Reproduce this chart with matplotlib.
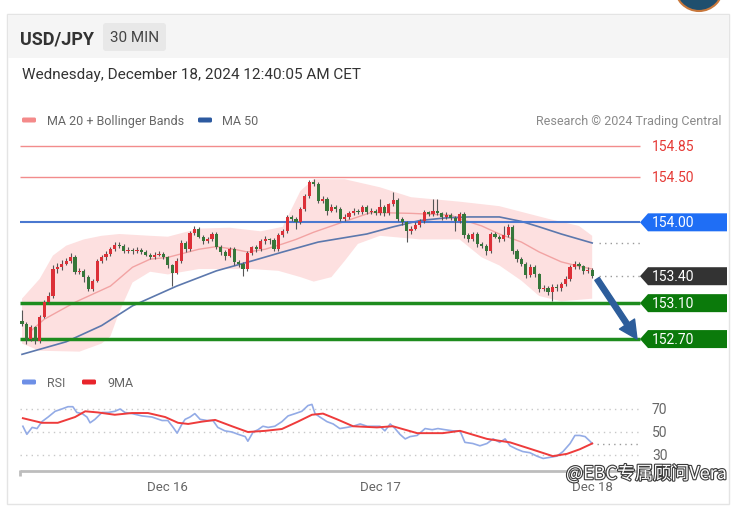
import numpy as np
import matplotlib
matplotlib.use('Agg')
import matplotlib.pyplot as plt
import matplotlib.transforms as mtransforms
import matplotlib.patheffects as pe
from matplotlib.patches import Rectangle, Polygon, FancyArrowPatch, Circle, FancyBboxPatch

plt.rcParams['font.family'] = ['Roboto', 'DejaVu Sans']

# ---------- data (USD/JPY, 30 min bars) ----------
first_open = 152.90
closes = [152.87, 152.70, 152.83, 152.68, 152.95, 153.11, 153.18, 153.48, 153.50, 153.54,
          153.57, 153.61, 153.45, 153.46, 153.39, 153.26, 153.35, 153.57, 153.61, 153.65,
          153.70, 153.75, 153.74, 153.68, 153.69, 153.68, 153.69, 153.67, 153.64, 153.61,
          153.64, 153.65, 153.61, 153.52, 153.44, 153.57, 153.77, 153.70, 153.88, 153.93,
          153.84, 153.79, 153.81, 153.87, 153.73, 153.67, 153.63, 153.70, 153.56, 153.54,
          153.48, 153.66, 153.72, 153.70, 153.79, 153.81, 153.80, 153.70, 153.86, 153.90,
          154.06, 154.04, 154.00, 154.15, 154.29, 154.45, 154.43, 154.24, 154.26, 154.13,
          154.17, 154.15, 154.04, 154.06, 154.10, 154.13, 154.11, 154.17, 154.11, 154.13,
          154.10, 154.17, 154.10, 154.20, 154.25, 154.04, 154.00, 153.90, 153.93, 153.97,
          154.01, 154.11, 154.09, 154.13, 154.10, 154.06, 154.08, 154.05, 154.01, 154.09,
          153.86, 153.81, 153.87, 153.76, 153.74, 153.68, 153.87, 153.84, 153.81, 153.86,
          153.95, 153.68, 153.59, 153.54, 153.41, 153.50, 153.42, 153.26, 153.27, 153.22,
          153.28, 153.27, 153.31, 153.37, 153.50, 153.54, 153.51, 153.46, 153.47, 153.40]
highs = [153.02, 152.89, 152.86, 152.85, 152.97, 153.14, 153.22, 153.52, 153.55, 153.58,
         153.60, 153.66, 153.64, 153.49, 153.48, 153.41, 153.37, 153.59, 153.64, 153.68,
         153.73, 153.78, 153.78, 153.76, 153.72, 153.71, 153.72, 153.71, 153.69, 153.66,
         153.67, 153.68, 153.67, 153.63, 153.54, 153.60, 153.80, 153.79, 153.90, 153.96,
         153.95, 153.86, 153.84, 153.89, 153.89, 153.75, 153.69, 153.72, 153.72, 153.58,
         153.56, 153.68, 153.74, 153.75, 153.81, 153.85, 153.83, 153.82, 153.88, 153.93,
         154.08, 154.08, 154.06, 154.17, 154.31, 154.47, 154.48, 154.45, 154.29, 154.28,
         154.20, 154.19, 154.17, 154.09, 154.13, 154.16, 154.15, 154.19, 154.19, 154.16,
         154.15, 154.26, 154.19, 154.22, 154.34, 154.27, 154.06, 154.02, 153.96, 154.00,
         154.04, 154.14, 154.13, 154.26, 154.26, 154.12, 154.11, 154.10, 154.07, 154.12,
         154.11, 153.88, 153.89, 153.89, 153.78, 153.76, 153.89, 153.89, 153.86, 153.96,
         153.98, 153.97, 153.70, 153.61, 153.56, 153.54, 153.52, 153.44, 153.30, 153.29,
         153.31, 153.31, 153.34, 153.40, 153.52, 153.57, 153.56, 153.53, 153.50, 153.49]
lows = [152.84, 152.65, 152.68, 152.64, 152.66, 152.93, 153.09, 153.16, 153.44, 153.47,
        153.52, 153.55, 153.42, 153.42, 153.33, 153.23, 153.24, 153.33, 153.55, 153.58,
        153.63, 153.68, 153.71, 153.66, 153.66, 153.65, 153.66, 153.65, 153.62, 153.59,
        153.59, 153.62, 153.59, 153.49, 153.29, 153.42, 153.55, 153.67, 153.68, 153.86,
        153.82, 153.76, 153.77, 153.79, 153.70, 153.64, 153.58, 153.61, 153.53, 153.50,
        153.40, 153.46, 153.64, 153.67, 153.68, 153.76, 153.76, 153.68, 153.68, 153.84,
        153.88, 154.01, 153.93, 153.98, 154.13, 154.27, 154.40, 154.21, 154.22, 154.08,
        154.11, 154.12, 154.01, 154.02, 154.04, 154.08, 154.09, 154.09, 154.09, 154.09,
        154.08, 154.08, 154.07, 154.08, 154.18, 154.01, 153.97, 153.78, 153.87, 153.91,
        153.95, 153.99, 154.07, 154.07, 154.08, 154.03, 154.04, 154.03, 153.90, 153.99,
        153.83, 153.78, 153.79, 153.73, 153.71, 153.64, 153.66, 153.82, 153.78, 153.79,
        153.84, 153.65, 153.56, 153.51, 153.38, 153.39, 153.39, 153.22, 153.24, 153.19,
        153.12, 153.24, 153.24, 153.29, 153.35, 153.48, 153.48, 153.43, 153.44, 153.38]

# indicators read at sparse bar positions
ma20_x = [2, 5, 12, 20, 25, 29, 33, 40, 44, 48, 51, 55, 59, 62, 66, 73, 79, 88, 97, 99,
          104, 108, 113, 117, 122, 126, 129]
ma20_v = [152.79, 152.92, 153.11, 153.29, 153.50, 153.59, 153.61, 153.70, 153.73, 153.70,
          153.67, 153.70, 153.76, 153.81, 153.89, 154.01, 154.11, 154.10, 154.08, 154.04,
          153.96, 153.87, 153.78, 153.67, 153.56, 153.51, 153.48]
ma50_x = [0, 10, 18, 25, 35, 44, 52, 59, 67, 78, 84, 90, 96, 101, 108, 113, 117, 122, 129]
ma50_v = [152.53, 152.67, 152.85, 153.07, 153.29, 153.46, 153.57, 153.67, 153.78, 153.87,
          153.95, 154.02, 154.05, 154.06, 154.06, 154.01, 153.95, 153.87, 153.77]
bb_up_x = [0, 4, 7, 10, 14, 18, 22, 29, 33, 40, 47, 54, 59, 61, 63, 66, 73, 81, 88, 99,
           108, 119, 126, 129]
bb_up_v = [153.15, 153.37, 153.63, 153.74, 153.81, 153.85, 153.87, 153.85, 153.84, 153.93,
           153.94, 153.90, 153.95, 154.15, 154.35, 154.48, 154.48, 154.39, 154.28, 154.23,
           154.18, 154.04, 153.96, 153.85]
bb_lo_x = [0, 4, 13, 18, 20, 22, 25, 29, 33, 40, 52, 58, 63, 66, 70, 73, 76, 81, 90, 99,
           104, 108, 113, 117, 122, 129]
bb_lo_v = [152.65, 152.57, 152.56, 152.65, 152.73, 153.00, 153.33, 153.45, 153.42, 153.48,
           153.48, 153.46, 153.39, 153.34, 153.39, 153.57, 153.76, 153.85, 153.81, 153.81,
           153.61, 153.52, 153.35, 153.18, 153.12, 153.15]

rsi_x = [0.2, 1.1, 2.3, 3.4, 4.5, 5.9, 7.5, 9.0, 10.4, 11.5, 12.4, 13.6, 14.7, 15.4, 16.5,
         18.1, 19.5, 21.0, 22.2, 23.3, 24.9, 27.1, 29.4, 31.7, 33.0, 34.2, 35.1, 36.2, 36.9,
         38.0, 39.1, 40.3, 41.9, 43.2, 44.3, 45.9, 47.5, 48.9, 50.5, 51.1, 52.3, 53.4, 54.5,
         55.7, 57.2, 58.8, 60.2, 61.8, 63.3, 64.7, 65.6, 66.3, 67.4, 69.0, 70.4, 71.9, 73.5,
         74.9, 76.5, 78.1, 79.4, 81.0, 82.1, 83.3, 84.4, 85.5, 86.7, 87.8, 89.4, 91.2, 92.8,
         94.1, 95.7, 97.5, 99.1, 100.2, 102.0, 103.6, 105.2, 106.6, 108.1, 109.3, 110.4,
         112.0, 113.3, 114.9, 116.5, 117.9, 119.5, 121.0, 122.4, 124.0, 125.1, 126.2, 127.4,
         128.5, 129.0]
rsi_v = [55, 48, 54, 53, 59, 63, 68, 70, 72, 72, 67, 66, 63, 58, 61,
         67, 67, 68, 70, 67, 66, 64, 63, 60, 60, 54, 49, 57, 61,
         63, 66, 61, 60, 60, 54, 51, 50, 48, 46, 42, 50, 52, 55,
         54, 55, 59, 64, 66, 68, 73, 74, 66, 63, 59, 57, 53, 54,
         55, 57, 55, 55, 55, 51, 57, 53, 48, 44, 46, 47, 53, 52,
         53, 52, 51, 51, 41, 40, 38, 40, 44, 41, 44, 38,
         35, 33, 32, 29, 27, 28, 29, 33, 40, 47, 47, 46,
         42, 40]
ma9_x = [0.2, 4.5, 8.1, 12.0, 14.3, 17.2, 21.0, 24.9, 28.5, 32.4, 35.3, 37.6, 40.7, 43.7,
         47.5, 51.1, 55.0, 58.8, 62.4, 65.6, 68.1, 71.3, 74.9, 80.3, 83.9, 89.4, 95.2, 99.1,
         105.2, 110.4, 116.5, 120.1, 123.3, 126.2, 129.0]
ma9_v = [62, 58, 58, 63, 68, 67, 65, 66.5, 66.5, 63, 58, 57, 59, 60.5,
         55, 50, 51, 52.6, 59, 65, 66, 61, 55, 54, 55, 49, 49, 51,
         44, 41, 33.5, 29, 31, 35, 40]

red_levels = [154.85, 154.50]
tag_levels = [154.00, 153.40, 153.10, 152.70]
tag_colors = ['#1f6ef5', '#333333', '#0b7a0b', '#0b7a0b']
rsi_levels = [70, 50, 30]
day_pos = [33, 81, 129]
day_labels = ['Dec 16', 'Dec 17', 'Dec 18']
target = 152.70

# ---------- layout (pixel based) ----------
W, H = 739, 510
fig = plt.figure(figsize=(W / 100, H / 100), dpi=100)
bg = fig.add_axes([0, 0, 1, 1])
bg.set_xlim(0, W)
bg.set_ylim(H, 0)
bg.axis('off')


def px_axes(x0, y0, x1, y1):
    a = fig.add_axes([x0 / W, 1 - y1 / H, (x1 - x0) / W, (y1 - y0) / H])
    a.set_facecolor('none')
    a.axis('off')
    return a


# card + header
bg.add_patch(Rectangle((7, 15), 722, 490, fc='white', ec='#e4e4e4', lw=1))
bg.add_patch(Rectangle((7.5, 15.5), 721, 43, fc='#f5f5f5', ec='none'))
bg.add_patch(FancyBboxPatch((103, 24), 63, 28, boxstyle='round,pad=0,rounding_size=3',
                            fc='#e8e8e8', ec='none'))
bg.add_patch(Circle((699, -12), 24, fc='#1f4f6e', ec='#c8783c', lw=1.5, clip_on=False))
bg.text(20, 39, 'USD/JPY', fontsize=13, fontweight='bold', color='#333333', va='center')
bg.text(134.5, 38.5, '30 MIN', fontsize=11, color='#444444', ha='center', va='center')
bg.text(22, 75, 'Wednesday, December 18, 2024 12:40:05 AM CET', fontsize=11,
        color='#333333', va='center')

# legends
bg.add_patch(FancyBboxPatch((22, 118.5), 14, 5, boxstyle='round,pad=0,rounding_size=1.5',
                            fc='#f48a8a', ec='none'))
bg.text(47, 121.5, 'MA 20 + Bollinger Bands', fontsize=9, color='#666666', va='center')
bg.add_patch(FancyBboxPatch((198, 118.5), 14, 5, boxstyle='round,pad=0,rounding_size=1.5',
                            fc='#2c5aa0', ec='none'))
bg.text(222, 121.5, 'MA 50', fontsize=9, color='#666666', va='center')
bg.text(721, 121.5, 'Research \u00a9 2024 Trading Central', fontsize=9, color='#8a8a8a',
        va='center', ha='right')
bg.add_patch(FancyBboxPatch((22, 380.5), 14, 5, boxstyle='round,pad=0,rounding_size=1.5',
                            fc='#6d8fe6', ec='none'))
bg.text(47, 383.5, 'RSI', fontsize=9, color='#666666', va='center')
bg.add_patch(FancyBboxPatch((82, 380.5), 14, 5, boxstyle='round,pad=0,rounding_size=1.5',
                            fc='#e8242b', ec='none'))
bg.text(107, 383.5, '9MA', fontsize=9, color='#666666', va='center')

# ---------- price panel ----------
bar_px, x0_px = 4.42, 22.0
px_per_unit, y_ref_px, y_ref = 89.8, 147.0, 154.85


def bx(px):
    return (px - x0_px) / bar_px


ax = px_axes(20, 135, 730, 360)
ax.set_xlim(bx(20), bx(730))
ax.set_ylim(y_ref - (360 - y_ref_px) / px_per_unit, y_ref + (y_ref_px - 135) / px_per_unit)
line_end = bx(640)

ax.fill(bb_up_x + bb_lo_x[::-1], bb_up_v + bb_lo_v[::-1], color='#fde0e0', lw=0, zorder=1)
ax.plot(ma20_x, ma20_v, color='#f2a3a3', lw=1.0, zorder=2)
ax.plot(ma50_x, ma50_v, color='#5c78ad', lw=1.2, zorder=2)

ax.hlines(red_levels, bx(20), line_end, color='#f28c8c', lw=1, zorder=2)
ax.hlines(tag_levels[0], bx(20), line_end, color='#4a78d0', lw=1.5, zorder=2)
ax.hlines(tag_levels[2:], bx(20), line_end, color='#1e8c1e', lw=2.5, zorder=2)

# candles
closes_a = np.array(closes)
opens_a = np.r_[first_open, closes_a[:-1]]
xb = np.arange(len(closes_a))
up = closes_a >= opens_a
body_lo = np.minimum(opens_a, closes_a)
body_h = np.maximum(np.abs(closes_a - opens_a), 0.012)
ax.vlines(xb, lows, highs, color='#555555', lw=0.8, zorder=4)
ax.bar(xb, body_h, 0.72, bottom=body_lo, color=np.where(up, '#dc3038', '#36773a'),
       lw=0, zorder=5)

# dotted extensions for last values
ax.hlines([closes[-1], ma50_v[-1]], len(closes) + 0.6, line_end, color='#9a9a9a',
          lw=1, linestyles=(0, (1, 3)), zorder=2)

# right labels
tr = mtransforms.blended_transform_factory(bg.transData, ax.transData)
for v in red_levels:
    ax.text(652, v, f'{v:.2f}', transform=tr, color='#e53935', fontsize=10, va='center')
half = 9 / px_per_unit
for v, c in zip(tag_levels, tag_colors):
    ax.add_patch(Polygon([(640, v), (648, v + half), (727, v + half), (727, v - half),
                          (648, v - half)], closed=True, transform=tr, fc=c, ec='none',
                         zorder=6))
    ax.text(652, v, f'{v:.2f}', transform=tr, color='white', fontsize=10, va='center',
            zorder=7)

# projection arrow
ax.add_patch(FancyArrowPatch((len(closes) + 0.1, closes[-1] - 0.03), (bx(637), target),
                             arrowstyle='simple,head_width=1.3,head_length=1.3,tail_width=0.38',
                             mutation_scale=10, color='#2d5d9b', shrinkA=0, shrinkB=0,
                             zorder=8))

# ---------- RSI panel ----------
rsi_px = 23 / 20
axr = px_axes(20, 395, 730, 470)
axr.set_xlim(bx(20), bx(730))
axr.set_ylim(50 - (470 - 433) / rsi_px, 50 + (433 - 395) / rsi_px)
axr.hlines(rsi_levels, bx(20), line_end, color='#c8c8c8', lw=1, linestyles=(0, (1, 3)))
axr.plot(rsi_x, rsi_v, color='#93abe6', lw=1.2, zorder=3)
axr.plot(ma9_x, ma9_v, color='#ee3b3b', lw=1.4, zorder=4)
axr.hlines(rsi_v[-1], len(closes) + 0.2, line_end, color='#9a9a9a', lw=1,
           linestyles=(0, (1, 3)))
trr = mtransforms.blended_transform_factory(bg.transData, axr.transData)
for v in rsi_levels:
    axr.text(652, v, str(v), transform=trr, color='#666666', fontsize=10, va='center')

# time axis
bg.plot([20, 640], [472, 472], color='#bdbdbd', lw=2, solid_capstyle='butt')
bg.plot([20, 20], [471, 477], color='#bdbdbd', lw=2, solid_capstyle='butt')
trd = mtransforms.blended_transform_factory(axr.transData, bg.transData)
for p, lab in zip(day_pos, day_labels):
    bg.text(p, 488, lab, transform=trd, color='#666666', fontsize=9.5, ha='center',
            va='center')

# watermark: it lies over the last date label in the source image as well
bg.text(566, 475, '@EBC专属顾问Vera', family=['Noto Sans CJK SC', 'DejaVu Sans'],
        fontsize=13, color='white', va='center', zorder=20,
        path_effects=[pe.withStroke(linewidth=1.6, foreground='#3a3a3a')])

fig.savefig('out.png', dpi=100)
